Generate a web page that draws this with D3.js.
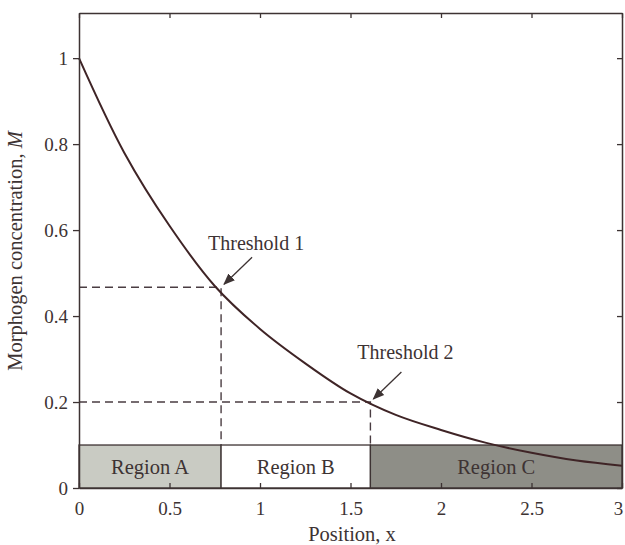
<!DOCTYPE html>
<html>
<head>
<meta charset="utf-8">
<script src="https://cdn.jsdelivr.net/npm/d3@7"></script>
<style>
  body { margin: 0; background: #fff; }
  text { font-family: "Liberation Serif", "DejaVu Serif", serif; fill: #3d3333; }
</style>
</head>
<body>
<div class="chart"></div>
<script>
// data
var posX = [0, 0.25, 0.5, 0.75, 1, 1.25, 1.5, 1.75, 2, 2.25, 2.5, 2.75, 3];
var concM = [1.0, 0.78, 0.61, 0.47, 0.37, 0.29, 0.22, 0.17, 0.135, 0.105, 0.082, 0.064, 0.052];
var thresholdNames = ["Threshold 1", "Threshold 2"];
var thresholdX = [0.785, 1.61];
var thresholdM = [0.467, 0.2];
var regionNames = ["Region A", "Region B", "Region C"];
var regionStart = [0, 0.785, 1.61];
var regionEnd = [0.785, 1.61, 3];
var regionTop = 0.1;
var xTicks = [0, 0.5, 1, 1.5, 2, 2.5, 3];
var yTicks = [0, 0.2, 0.4, 0.6, 0.8, 1];

var svgWidth = 625, svgHeight = 545;
var margin = { top: 13, right: 3, bottom: 57, left: 79 };
var width = svgWidth - margin.left - margin.right;
var height = svgHeight - margin.top - margin.bottom;
var ink = "#3d3333";

var svg = d3.select(".chart").append("svg")
  .attr("width", svgWidth)
  .attr("height", svgHeight);

var g = svg.append("g")
  .attr("transform", `translate(${margin.left}, ${margin.top})`);

var x = d3.scaleLinear().domain([0, 3]).range([0, width]);
var y = d3.scaleLinear().domain([0, 1.105]).range([height, 0]);

// region bar
var regionFill = ["#c9cbc3", "#ffffff", "#8e8e87"];
g.selectAll(".region")
  .data(regionNames)
  .enter().append("rect")
  .attr("x", (d, i) => x(regionStart[i]))
  .attr("y", y(regionTop))
  .attr("width", (d, i) => x(regionEnd[i]) - x(regionStart[i]))
  .attr("height", y(0) - y(regionTop))
  .attr("fill", (d, i) => regionFill[i])
  .attr("stroke", ink)
  .attr("stroke-width", 1.3);

g.selectAll(".regionLabel")
  .data(regionNames)
  .enter().append("text")
  .attr("x", (d, i) => x((regionStart[i] + regionEnd[i]) / 2))
  .attr("y", y(regionTop / 2) + 7)
  .attr("text-anchor", "middle")
  .attr("font-size", 20.5)
  .text(d => d);

// dashed threshold guides
thresholdNames.forEach(function (name, i) {
  g.append("path")
    .attr("d", `M${x(0)},${y(thresholdM[i])}H${x(thresholdX[i])}V${y(regionTop)}`)
    .attr("fill", "none")
    .attr("stroke", "#4a3d42")
    .attr("stroke-width", 1.4)
    .attr("stroke-dasharray", "8,5");
});

// the curve
var line = d3.line()
  .x((d, i) => x(posX[i]))
  .y(d => y(d))
  .curve(d3.curveCatmullRom);

g.append("path")
  .datum(concM)
  .attr("d", line)
  .attr("fill", "none")
  .attr("stroke", "#3f2426")
  .attr("stroke-width", 2);

// axes
var bottomAxis = d3.axisBottom(x).tickValues(xTicks).tickSizeInner(-5).tickSizeOuter(0)
  .tickFormat(d3.format("~g")).tickPadding(14);
var leftAxis = d3.axisLeft(y).tickValues(yTicks).tickSizeInner(6).tickSizeOuter(0)
  .tickFormat(d3.format("~g")).tickPadding(5);
var topAxis = d3.axisTop(x).tickValues(xTicks).tickSizeInner(-5).tickSizeOuter(0).tickFormat("");
var rightAxis = d3.axisRight(y).tickValues(yTicks).tickSizeInner(-5).tickSizeOuter(0).tickFormat("");

var axes = [
  g.append("g").attr("transform", `translate(0, ${height})`).call(bottomAxis),
  g.append("g").call(leftAxis),
  g.append("g").call(topAxis),
  g.append("g").attr("transform", `translate(${width}, 0)`).call(rightAxis)
];
axes.forEach(function (a) {
  a.select(".domain").attr("stroke", ink).attr("stroke-width", 1.5);
  a.selectAll(".tick line").attr("stroke", ink).attr("stroke-width", 1.3);
  a.selectAll(".tick text").attr("font-size", 19)
    .attr("font-family", "Liberation Serif, serif").attr("fill", ink);
});
// last x label sits at the right edge; keep it inside the page
axes[0].selectAll(".tick text").filter(d => d === 3).attr("dx", -4);

// threshold labels with arrows
svg.append("defs").append("marker")
  .attr("id", "arrow")
  .attr("viewBox", "0 0 10 10")
  .attr("refX", 9).attr("refY", 5)
  .attr("markerWidth", 9).attr("markerHeight", 9)
  .attr("orient", "auto")
  .append("path")
  .attr("d", "M0,1 L10,5 L0,9 Z")
  .attr("fill", ink);

var labelDy = [-37, -43];
thresholdNames.forEach(function (name, i) {
  var px = x(thresholdX[i]), py = y(thresholdM[i]);
  g.append("line")
    .attr("x1", px + 31).attr("y1", py - 30)
    .attr("x2", px + 3).attr("y2", py - 3)
    .attr("stroke", ink)
    .attr("stroke-width", 1.3)
    .attr("marker-end", "url(#arrow)");
  g.append("text")
    .attr("x", px + 35)
    .attr("y", py + labelDy[i])
    .attr("text-anchor", "middle")
    .attr("font-size", 20)
    .text(name);
});

// axis titles
svg.append("text")
  .attr("transform", "rotate(-90)")
  .attr("x", -251)
  .attr("y", 22)
  .attr("text-anchor", "middle")
  .attr("font-size", 20.5)
  .html("Morphogen concentration, <tspan font-style='italic'>M</tspan>");

svg.append("text")
  .attr("x", 352)
  .attr("y", 541)
  .attr("text-anchor", "middle")
  .attr("font-size", 20.5)
  .text("Position, x");
</script>
</body>
</html>
